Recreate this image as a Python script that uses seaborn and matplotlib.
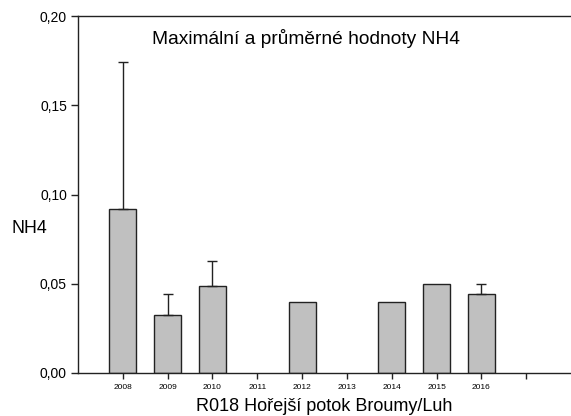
import seaborn as sns
import matplotlib.pyplot as plt
import pandas as pd
import numpy as np

# Data
roky = ["2008", "2009", "2010", "2012", "2014", "2015", "2016"]
prumer = [0.092, 0.0325, 0.049, 0.040, 0.040, 0.050, 0.044]
maximum = [0.174, 0.044, 0.063, 0.040, 0.040, 0.050, 0.050]
poradi = ["2008", "2009", "2010", "2011", "2012", "2013", "2014", "2015", "2016", ""]

df = pd.DataFrame({"rok": roky, "prumer": prumer, "maximum": maximum})
df["pozice"] = [poradi.index(r) for r in roky]

sns.set_style("ticks")
plt.rcParams['font.family'] = ['Liberation Sans', 'DejaVu Sans']
plt.rcParams['text.color'] = 'black'
plt.rcParams['xtick.color'] = 'black'
plt.rcParams['ytick.color'] = 'black'
plt.rcParams['axes.labelcolor'] = 'black'

fig = plt.figure(figsize=(5.71, 4.16), dpi=100)
ax = fig.add_axes([78 / 571, 1 - 373 / 416, 1 - 78 / 571, (373 - 16) / 416])

sns.barplot(data=df, x="rok", y="prumer", order=poradi, color="#c0c0c0",
            saturation=1, width=0.6, edgecolor="#222222", linewidth=1.0,
            errorbar=None, ax=ax)

# only upward error bars up to the maximum (where it differs from the mean)
chyby = df[df["maximum"] > df["prumer"]]
ax.errorbar(chyby["pozice"], chyby["prumer"],
            yerr=[np.zeros(len(chyby)), chyby["maximum"] - chyby["prumer"]],
            fmt="none", ecolor="#222222", elinewidth=1.0, capsize=3.6, capthick=1.0)

ax.set_xlim(-1, 10)
ax.set_ylim(0, 0.20)
ax.set_yticks([0, 0.05, 0.10, 0.15, 0.20])
ax.set_yticklabels(["0,00", "0,05", "0,10", "0,15", "0,20"], fontsize=10)
ax.tick_params(axis="x", labelsize=6, length=4, width=1.0, color="#222222", pad=4)
ax.tick_params(axis="y", length=5, width=1.0, color="#222222", pad=3)

for s in ["left", "bottom", "top"]:
    ax.spines[s].set_color("#222222")
    ax.spines[s].set_linewidth(1.0)
ax.spines["right"].set_visible(False)

ax.text(0.463, 0.936, "Maximální a průměrné hodnoty NH4", transform=ax.transAxes,
        ha="center", va="center", fontsize=13.8)
ax.set_ylabel("NH4", rotation=0, fontsize=12.8, ha="left", va="center")
ax.yaxis.set_label_coords(-0.134, 0.406)
ax.set_xlabel("R018 Hořejší potok Broumy/Luh", fontsize=13, labelpad=5)

fig.savefig("out.png", dpi=100)
